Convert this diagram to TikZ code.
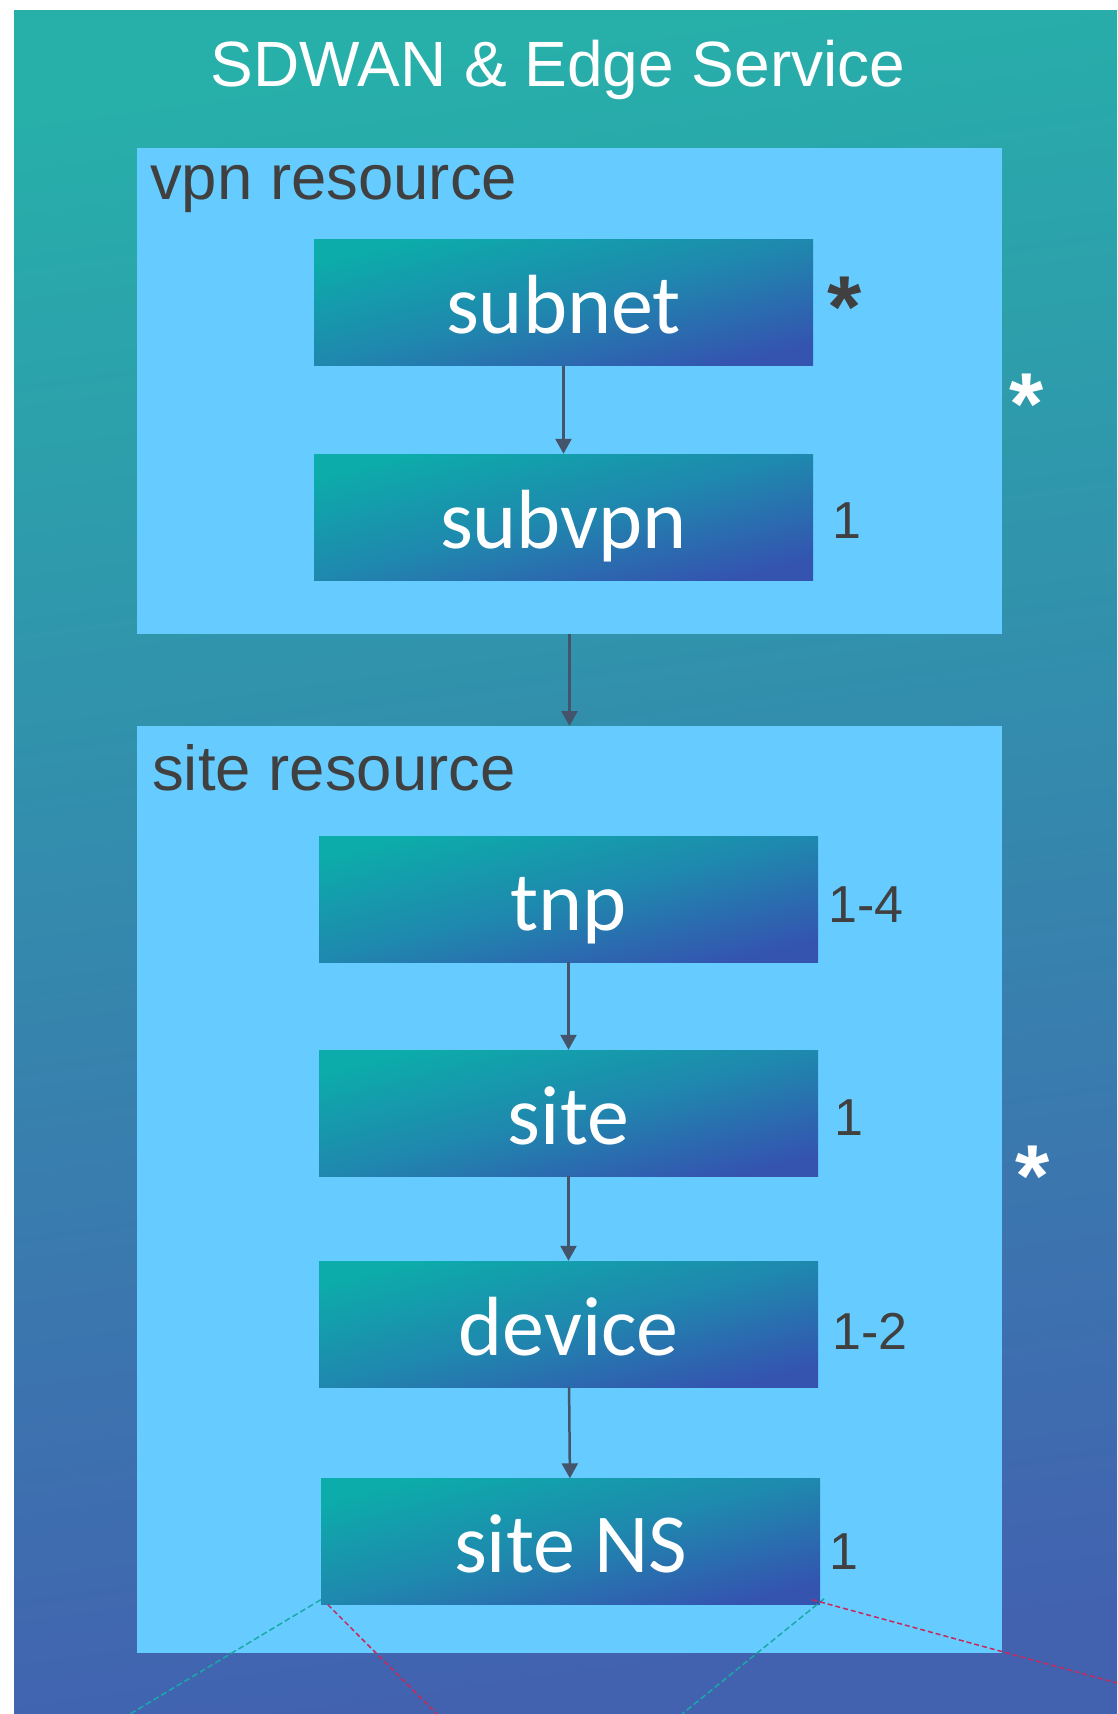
\documentclass[tikz,border=0pt]{standalone}
\usepackage{fontspec}
\setmainfont{Liberation Sans}
\newfontfamily\calfont{Carlito}
\usetikzlibrary{arrows.meta}
\definecolor{bgtop}{HTML}{27AFAA}
\definecolor{bgbot}{HTML}{4262B0}
\definecolor{boxfill}{HTML}{66CCFF}
\definecolor{nodeA}{HTML}{0CACAA}
\definecolor{nodeM}{HTML}{1F88AE}
\definecolor{nodeB}{HTML}{3454B0}
\definecolor{txtgray}{HTML}{404040}
\definecolor{arrowc}{HTML}{44546A}
\definecolor{dteal}{HTML}{1AA8A8}
\definecolor{dred}{HTML}{C8285A}
\tikzset{
  item/.style={rectangle, inner sep=0pt, minimum width=499pt, minimum height=126pt,
    top color=nodeA, bottom color=nodeB, middle color=nodeM, shading angle=14,
    text=white, font=\calfont\fontsize{84}{90}\selectfont, text height=62pt, text depth=0pt},
  group/.style={fill=boxfill, draw=none},
  grouplabel/.style={anchor=base west, inner sep=0pt, text=txtgray, font=\fontsize{63.5}{70}\selectfont},
  mult/.style={anchor=base west, inner sep=0pt, text=txtgray, font=\fontsize{52}{60}\selectfont},
  star/.style={anchor=base, inner sep=0pt, font=\bfseries\fontsize{88}{100}\selectfont},
  flow/.style={draw=arrowc, line width=2.5pt, -{Triangle[width=16pt,length=15pt]}},
  dashA/.style={draw=dteal, line width=1.5pt, dash pattern=on 6pt off 3pt},
  dashB/.style={draw=dred, line width=1.5pt, dash pattern=on 5pt off 3pt},
}
\begin{document}
\begin{tikzpicture}[x=1pt,y=-1pt]
\useasboundingbox (0,0) rectangle (1117,1714);
\fill[white] (0,0) rectangle (1117,1714);
\shade[top color=bgtop, bottom color=bgbot, shading angle=8] (14,10) rectangle (1117,1714);
\node[white, anchor=base, inner sep=0pt, font=\fontsize{64}{70}\selectfont] (title) at (558,86) {SDWAN \& Edge Service};
% groups
\path[group] (137,148) rectangle (1002,634);
\coordinate (vpnS) at (569.5,634);
\path[group] (137,726) rectangle (1002,1653);
\coordinate (siteN) at (569.5,726);
\node[grouplabel] (vpnlbl) at (150,199) {vpn resource};
\node[grouplabel] (sitelbl) at (152,790) {site resource};
% items
\node[item] (subnet) at (563.5,302.5) {subnet};
\node[item] (subvpn) at (563.5,517) {subvpn};
\node[item] (tnp) at (568.5,899) {tnp};
\node[item] (site) at (568.5,1113) {site};
\node[item] (device) at (568.5,1324) {device};
\node[item] (siteNS) at (570.5,1541.5) {site NS};
% multiplicities
\node[star, text=txtgray] (s1) at (845,337) {*};
\node[mult] (m1) at (832,538) {1};
\node[star, text=white] (s2) at (1027,434) {*};
\node[mult] (m2) at (828,922) {1-4};
\node[mult] (m3) at (834,1135) {1};
\node[star, text=white] (s3) at (1033,1206) {*};
\node[mult] (m4) at (832,1349) {1-2};
\node[mult] (m5) at (829,1569) {1};
% arrows
\draw[flow] (subnet) -- (subvpn);
\draw[flow] (vpnS) -- (siteN);
\draw[flow] (tnp) -- (site);
\draw[flow] (site) -- (device);
\draw[flow] (device) -- (siteNS);
% dashed links
\coordinate (e1) at (130,1714);
\coordinate (e2) at (437,1714);
\coordinate (e3) at (682,1714);
\coordinate (e4) at (1117,1683);
\draw[dashA] (siteNS.south west) ++(0,-5) -- (e1);
\draw[dashB] (siteNS.south west) ++(7,0) -- (e2);
\draw[dashA] (siteNS.south east) ++(4,-6) -- (e3);
\draw[dashB] (siteNS.south east) ++(-8,-5) -- (e4);
\end{tikzpicture}
\end{document}
